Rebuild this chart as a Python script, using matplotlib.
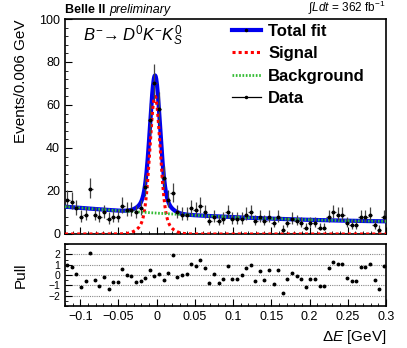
import numpy as np
import matplotlib
matplotlib.use("Agg")
import matplotlib.pyplot as plt
from matplotlib.lines import Line2D
from matplotlib.ticker import MultipleLocator

plt.rcParams['font.family'] = ['Liberation Sans', 'DejaVu Sans']
plt.rcParams['mathtext.fontset'] = 'custom'
plt.rcParams['mathtext.rm'] = 'Liberation Sans'
plt.rcParams['mathtext.it'] = 'Liberation Sans:italic'

# binning of Delta E [GeV]
x_lo, x_hi, bin_w = -0.12, 0.3, 0.006

# events per bin
counts = [16, 15, 12, 8, 9, 21, 9, 8, 10, 7,
          8, 8, 13, 11, 11, 10, 12, 22, 53, 70,
          58, 26, 16, 19, 10, 9, 9, 12, 11, 13,
          10, 6, 8, 6, 7, 10, 7, 7, 7, 9,
          10, 6, 8, 6, 8, 5, 8, 2, 5, 7,
          6, 5, 3, 5, 5, 3, 3, 8, 10, 9,
          9, 5, 4, 4, 8, 8, 9, 4, 2, 8]

# pulls per bin
pulls = [0.94, 0.74, 0.06, -1.2, -0.6, 2.1, -0.5, -1.1, -0.2, -1.35,
         -0.7, -0.7, 0.55, -0.03, -0.1, -0.68, -0.58, -0.3, 0.48, -0.1,
         0.1, -0.45, 0.23, 1.94, -0.16, -0.03, 0.1, 1.06, 0.87, 1.42,
         0.68, -0.77, 0.13, -0.74, -0.42, 0.87, -0.39, -0.35, -0.03, 0.65,
         0.97, -0.58, 0.42, -0.52, 0.45, -0.84, 0.48, -1.71, -0.42, 0.19,
         -0.1, -0.39, -1.13, -0.39, -0.39, -1.06, -1.06, 0.71, 1.26, 1.03,
         1.03, -0.3, -0.58, -0.58, 0.81, 0.81, 1.1, -0.52, -1.39, 0.87]

# fit model parameters (double gaussian signal + quadratic background)
sig_mean = -0.0022
sig_core = (55.0, 0.0064)
sig_tail = (9.0, 0.014)
bkg_poly = [9.71, -21.42, 29.06]

centers = x_lo + bin_w * (np.arange(len(counts)) + 0.5)
n = np.array(counts, dtype=float)
err_lo = np.sqrt(n + 0.25) - 0.5
err_hi = np.sqrt(n + 0.25) + 0.5

xs = np.linspace(x_lo, x_hi, 800)
signal = (sig_core[0] * np.exp(-0.5 * ((xs - sig_mean) / sig_core[1]) ** 2)
          + sig_tail[0] * np.exp(-0.5 * ((xs - sig_mean) / sig_tail[1]) ** 2))
background = bkg_poly[0] + bkg_poly[1] * xs + bkg_poly[2] * xs ** 2
total = signal + background

fig = plt.figure(figsize=(4.07, 3.48), dpi=100)
ax = fig.add_axes([0.1597, 0.3276, 0.7887, 0.6178])
axp = fig.add_axes([0.1597, 0.1207, 0.7887, 0.178])

ax.plot(xs, total, color='#0000ee', lw=3, zorder=3)
ax.plot(xs, signal, color='#ff0000', lw=2.2, ls=(0, (1, 1)), zorder=4)
ax.plot(xs, background, color='#33bb33', lw=2.0, ls=(0, (0.6, 0.6)), zorder=4)
ax.errorbar(centers, n, yerr=[err_lo, err_hi], xerr=bin_w / 2, fmt='o', ms=1.8,
            color='black', ecolor='#444444', elinewidth=0.9, capsize=0, zorder=5)

ax.set_xlim(x_lo, x_hi)
ax.set_ylim(0, 100)
ax.set_ylabel('Events/0.006 GeV', fontsize=11, loc='top')
ax.yaxis.set_major_locator(MultipleLocator(20))
ax.yaxis.set_minor_locator(MultipleLocator(4))
ax.xaxis.set_major_locator(MultipleLocator(0.05))
ax.xaxis.set_minor_locator(MultipleLocator(0.01))
ax.tick_params(axis='both', which='both', direction='in', labelsize=9)
ax.tick_params(which='major', length=5)
ax.tick_params(which='minor', length=2.5)
ax.tick_params(axis='x', labelbottom=False)

ax.text(0.055, 0.98, r'$B^{-}\!\rightarrow D^{0}K^{-}K^{0}_{S}$', transform=ax.transAxes,
        fontsize=12, va='top', ha='left')

handles = [
    Line2D([], [], color='#0000ee', lw=3, marker='o', ms=1.5, mfc='black', mec='black'),
    Line2D([], [], color='#ff0000', lw=2.2, ls=(0, (1, 1))),
    Line2D([], [], color='#33bb33', lw=2.0, ls=(0, (0.6, 0.6))),
    Line2D([], [], color='black', lw=0.9, marker='o', ms=1.5),
]
labels = ['Total fit', 'Signal', 'Background', 'Data']
ax.legend(handles, labels, loc='upper left', bbox_to_anchor=(0.49, 1.025), frameon=False,
          prop={'weight': 'bold', 'size': 12}, handlelength=1.7, labelspacing=0.45,
          handletextpad=0.45, borderaxespad=0.2)

fig.text(0.1597, 0.953, 'Belle II', fontsize=9, fontweight='bold', va='bottom', ha='left')
fig.text(0.268, 0.953, 'preliminary', fontsize=9, style='italic', va='bottom', ha='left')
fig.text(0.948, 0.953, r'$\int Ldt$ = 362 fb$^{-1}$', fontsize=8.5, va='bottom', ha='right')

for g in [-2, -1, 0, 1, 2]:
    axp.axhline(g, color='#888888', lw=0.8, ls=(0, (1, 1)), zorder=1)
axp.plot(centers, pulls, 'o', color='black', ms=1.8, zorder=3)
axp.set_xlim(x_lo, x_hi)
axp.set_ylim(-3, 3)
axp.set_ylabel('Pull', fontsize=11)
axp.set_xlabel(r'$\Delta E$ [GeV]', fontsize=11, loc='right')
axp.xaxis.set_minor_locator(MultipleLocator(0.01))
axp.yaxis.set_minor_locator(MultipleLocator(0.5))
axp.set_xticks([-0.1, -0.05, 0, 0.05, 0.1, 0.15, 0.2, 0.25, 0.3])
axp.set_xticklabels(['\u22120.1', '\u22120.05', '0', '0.05', '0.1', '0.15', '0.2', '0.25', '0.3'])
axp.set_yticks([-2, -1, 0, 1, 2])
axp.set_yticklabels(['\u22122', '\u22121', '0', '1', '2'])
axp.tick_params(axis='both', which='both', direction='in', labelsize=9)
axp.tick_params(axis='y', labelsize=7.5)
axp.tick_params(which='major', length=5)
axp.tick_params(which='minor', length=2.5)

for a in (ax, axp):
    for s in a.spines.values():
        s.set_linewidth(1.2)

ax.yaxis.set_label_coords(-0.115, 1.0)
axp.yaxis.set_label_coords(-0.115, 0.5)

fig.savefig('out.png', dpi=100)
